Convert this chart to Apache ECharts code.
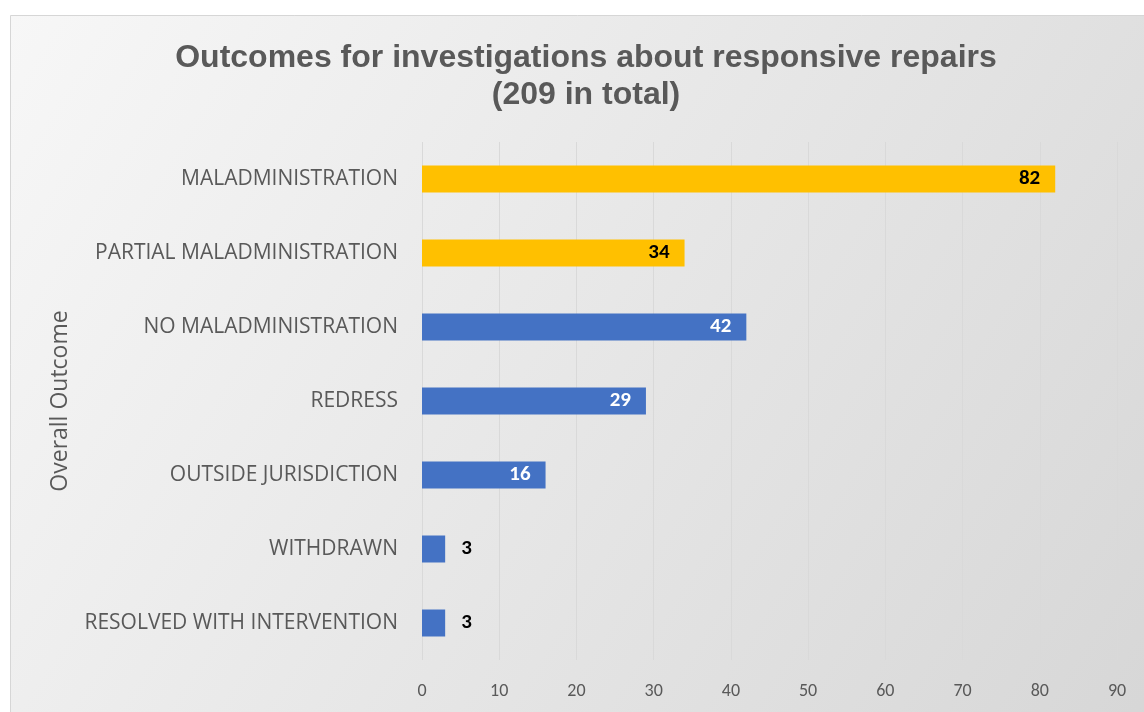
<!DOCTYPE html>
<html>
<head>
<meta charset="utf-8">
<script src="https://cdn.jsdelivr.net/npm/echarts@6/dist/echarts.min.js"></script>
<style>
html,body{margin:0;padding:0;background:#fff;}
#chart{width:1144px;height:712px;}
</style>
</head>
<body>
<div id="chart"></div>
<script>
const categories = ['MALADMINISTRATION','PARTIAL MALADMINISTRATION','NO MALADMINISTRATION','REDRESS','OUTSIDE JURISDICTION','WITHDRAWN','RESOLVED WITH INTERVENTION'];
const values = [82, 34, 42, 29, 16, 3, 3];
const groups = ['fault','fault','other','other','other','other','other'];
const xTicks = [0, 90, 10];

const groupColor = {fault:'#FFC000', other:'#4472C4'};
const numFont = 'Carlito, Lato, sans-serif';
const textFont = '"Open Sans", "Noto Sans", sans-serif';

const data = values.map((v, i) => {
  const small = v < 10;
  return {
    value: v,
    itemStyle: {color: groupColor[groups[i]]},
    label: {
      position: small ? 'right' : 'insideRight',
      distance: small ? 16 : 15,
      color: small ? '#000' : (groups[i] === 'fault' ? '#000' : '#fff')
    }
  };
});

const chart = echarts.init(document.getElementById('chart'));
chart.setOption({
  animation: false,
  backgroundColor: '#fff',
  graphic: [{
    type: 'rect', z: -100, silent: true,
    shape: {x: 10.5, y: 15.5, width: 1160, height: 720},
    style: {
      stroke: '#d6d6d6', lineWidth: 1,
      fill: {type: 'linear', x: 0, y: 0, x2: 1, y2: 1, colorStops: [
        {offset: 0, color: '#f7f7f7'}, {offset: 1, color: '#d6d6d6'}]}
    }
  }],
  title: {
    text: 'Outcomes for investigations about responsive repairs\n(209 in total)',
    left: 581, top: 35, textAlign: 'center',
    textStyle: {fontFamily: '"Liberation Sans", Arial, sans-serif', fontWeight: 'bold', fontSize: 32, color: '#595959', lineHeight: 37}
  },
  grid: {left: 422, right: 27, top: 142, bottom: 52},
  xAxis: {
    type: 'value', min: xTicks[0], max: xTicks[1], interval: xTicks[2],
    axisLine: {show: false}, axisTick: {show: false},
    splitLine: {lineStyle: {color: '#d9d9d9', width: 1}},
    axisLabel: {color: '#595959', fontSize: 18, margin: 22, fontFamily: numFont}
  },
  yAxis: {
    type: 'category', data: categories, inverse: true,
    axisLine: {show: false}, axisTick: {show: false},
    axisLabel: {color: '#595959', fontSize: 21, margin: 24, fontFamily: textFont, padding: [4, 0, 0, 0]},
    name: 'Overall Outcome', nameLocation: 'middle', nameGap: 350, nameRotate: 90,
    nameTextStyle: {color: '#595959', fontSize: 23, fontFamily: textFont}
  },
  series: [{
    type: 'bar', data: data, barWidth: 27,
    label: {show: true, fontWeight: 'bold', fontSize: 21, fontFamily: numFont}
  }]
});
</script>
</body>
</html>
